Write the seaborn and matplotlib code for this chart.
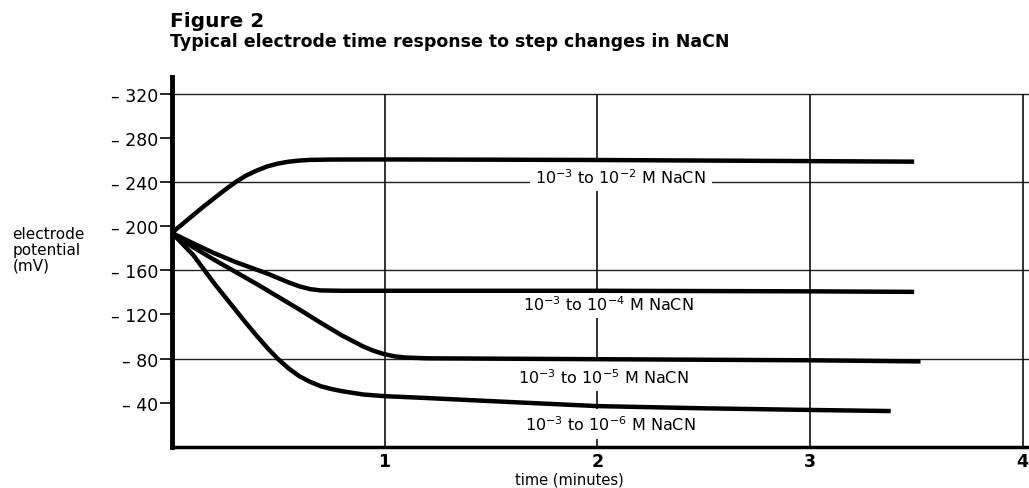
import pandas as pd
import seaborn as sns
import matplotlib.pyplot as plt

# Dados (potencial em mV, tempo em minutos)
t_1e2 = [0, 0.05, 0.1, 0.15, 0.2, 0.25, 0.3, 0.35, 0.4, 0.45, 0.5, 0.55, 0.6, 0.65, 0.75,
         1.0, 1.5, 2.0, 2.5, 3.0, 3.49]
v_1e2 = [-194, -202, -210, -218, -225.5, -233, -240, -246, -250.5, -254.3, -256.8, -258.5,
         -259.5, -260.1, -260.4, -260.5, -260.3, -260, -259.5, -259, -258.5]

t_1e4 = [0, 0.1, 0.2, 0.3, 0.4, 0.45, 0.5, 0.55, 0.6, 0.65, 0.7, 0.8, 1.0, 2.0, 3.0, 3.49]
v_1e4 = [-194, -184.5, -175.5, -167.5, -160.5, -157, -153, -149, -145.5, -143, -141.8,
         -141.5, -141.5, -141.5, -141, -140.5]

t_1e5 = [0, 0.1, 0.2, 0.3, 0.4, 0.5, 0.6, 0.7, 0.8, 0.85, 0.9, 0.95, 1.0, 1.05, 1.1, 1.2,
         1.5, 2.0, 3.0, 3.52]
v_1e5 = [-194, -181, -169.5, -158.5, -147.5, -136, -124.5, -112.5, -101, -96, -91, -87,
         -84, -82, -81, -80.3, -80, -79.5, -78.5, -77.5]

t_1e6 = [0, 0.05, 0.1, 0.15, 0.2, 0.25, 0.3, 0.35, 0.4, 0.45, 0.5, 0.55, 0.6, 0.65, 0.7,
         0.75, 0.8, 0.9, 1.0, 1.2, 1.5, 2.0, 2.5, 3.0, 3.38]
v_1e6 = [-194, -184, -174, -161, -148, -136, -124, -112, -100.5, -89.5, -79.5, -71, -64,
         -59, -55, -52.5, -50.5, -47.5, -46, -44.3, -41.5, -37, -35, -33.5, -32.5]

curve_labels = [r"10$^{-3}$ to 10$^{-2}$ M NaCN", r"10$^{-3}$ to 10$^{-4}$ M NaCN",
                r"10$^{-3}$ to 10$^{-5}$ M NaCN", r"10$^{-3}$ to 10$^{-6}$ M NaCN"]
label_t = [2.11, 2.05, 2.03, 2.06]
label_v = [-245, -130, -64, -21]

y_ticks = [-320, -280, -240, -200, -160, -120, -80, -40]
x_ticks = [1, 2, 3, 4]

series = [(t_1e2, v_1e2), (t_1e4, v_1e4), (t_1e5, v_1e5), (t_1e6, v_1e6)]
frames = []
for i, (t, v) in enumerate(series):
    frames.append(pd.DataFrame({'tempo': t, 'potencial': v, 'curva': curve_labels[i]}))
df = pd.concat(frames, ignore_index=True)

sns.set_style('white')
plt.rcParams['font.family'] = ['DejaVu Sans']
plt.rcParams['mathtext.fontset'] = 'dejavusans'
plt.rcParams['text.color'] = 'black'
plt.rcParams['axes.edgecolor'] = 'black'
plt.rcParams['xtick.color'] = 'black'
plt.rcParams['ytick.color'] = 'black'

fig = plt.figure(figsize=(10.29, 4.89), dpi=100)
ax = fig.add_axes([0.167, 0.084, 0.833, 0.756])

# grade
ax.hlines([-320, -240, -160, -80], 0, 4.03, color='#222222', lw=1, zorder=1)
ax.vlines(x_ticks, 0, -320, color='#111111', lw=1.2, zorder=1)

sns.lineplot(data=df, x='tempo', y='potencial', hue='curva', palette=['black'] * 4,
             lw=3.2, legend=False, sort=False, estimator=None, ax=ax, zorder=3)
for ln in ax.lines:
    ln.set_solid_joinstyle('round')
    ln.set_solid_capstyle('butt')

for txt, tx, vy in zip(curve_labels, label_t, label_v):
    ax.text(tx, vy, txt, ha='center', va='center', fontsize=11.5, zorder=2,
            bbox=dict(facecolor='white', edgecolor='none', pad=4))

ax.set_xlim(0, 4.03)
ax.set_ylim(0, -335)
ax.set_yticks(y_ticks)
ax.set_yticklabels(['\u2013 ' + str(abs(v)) for v in y_ticks], fontsize=12.5)
ax.set_xticks(x_ticks)
ax.set_xticklabels([str(x) for x in x_ticks], fontsize=12.5, fontweight='bold')
ax.tick_params(axis='y', direction='out', length=9, width=1.2, pad=1, left=True)
ax.tick_params(axis='x', length=0, pad=4)

for s in ['top', 'right']:
    ax.spines[s].set_visible(False)
ax.spines['left'].set_linewidth(3.5)
ax.spines['bottom'].set_linewidth(2.5)

ax.set_xlabel('')
ax.set_ylabel('')
fig.text(0.012, 0.535, 'electrode\npotential\n(mV)', ha='left', va='top',
         fontsize=11, linespacing=1.05)
fig.text(0.553, 0.003, 'time (minutes)', ha='center', va='bottom', fontsize=10.5)

fig.text(0.165, 0.975, 'Figure 2', ha='left', va='top', fontsize=14.5, fontweight='bold')
fig.text(0.165, 0.932, 'Typical electrode time response to step changes in NaCN',
         ha='left', va='top', fontsize=12.5, fontweight='bold')

plt.savefig('out.png', dpi=100)
